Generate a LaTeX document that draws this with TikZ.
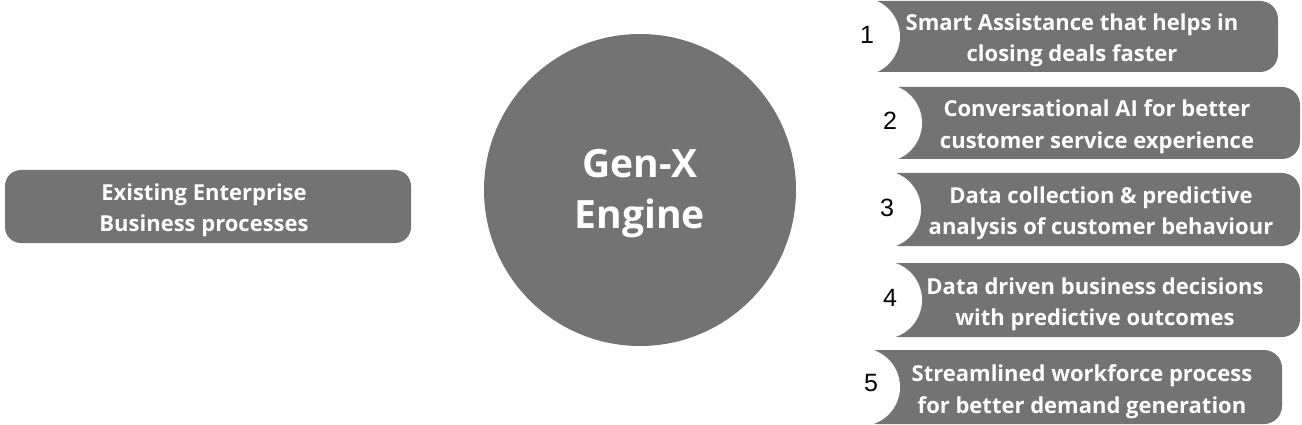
\documentclass[tikz,border=0pt]{standalone}
\usepackage{fontspec}
\setmainfont{Open Sans}
\newfontfamily\numfont{Liberation Sans}
\definecolor{boxgrey}{HTML}{737373}
\tikzset{
  grey/.style={fill=boxgrey, draw=none},
  itemtext/.style={text=white, font=\fontsize{22}{31.5}\selectfont\bfseries, align=center, inner sep=0pt},
  notch/.style={circle, fill=white, draw=none, minimum size=78pt, inner sep=0pt},
  num/.style={font=\numfont\fontsize{25}{25}\selectfont, text=black, inner sep=0pt}
}
\begin{document}
\begin{tikzpicture}[x=1pt,y=-1pt]
\useasboundingbox (0,0) rectangle (1302,425);
% left box
\fill[grey, rounded corners=16pt] (5,170) rectangle (411,243);
\node[itemtext] (exist) at (204,210.5) {Existing Enterprise\\Business processes};
% circle
\node[circle, fill=boxgrey, minimum size=312pt, inner sep=0pt] (engine) at (640,190) {};
\node[text=white, font=\fontsize{39}{51}\selectfont\bfseries, align=center] (enginetext) at (640,194) {Gen-X\\Engine};
% right boxes
\fill[grey, rounded corners=18pt] (860,1) rectangle (1278,72);
\node[notch] (c1) at (861,36.5) {};
\node[num] (n1) at (867,35) {1};
\node[itemtext] (t1) at (1072,40.5) {Smart Assistance that helps in\\closing deals faster};

\fill[grey, rounded corners=18pt] (880,87) rectangle (1300,159);
\node[notch] (c2) at (883,123) {};
\node[num] (n2) at (890,121) {2};
\node[itemtext] (t2) at (1097,126.5) {Conversational AI for better\\customer service experience};

\fill[grey, rounded corners=18pt] (880,173) rectangle (1300,246);
\node[notch] (c3) at (882,209.5) {};
\node[num] (n3) at (887,208) {3};
\node[itemtext] (t3) at (1101,213.5) {Data collection \& predictive\\analysis of customer behaviour};

\fill[grey, rounded corners=18pt] (880,263) rectangle (1300,337);
\node[notch] (c4) at (883,300) {};
\node[num] (n4) at (890,298) {4};
\node[itemtext] (t4) at (1095,304.5) {Data driven business decisions\\with predictive outcomes};

\fill[grey, rounded corners=18pt] (860,350) rectangle (1282,424);
\node[notch] (c5) at (861,387) {};
\node[num] (n5) at (871,383) {5};
\node[itemtext] (t5) at (1082,391.5) {Streamlined workforce process\\for better demand generation};
\end{tikzpicture}
\end{document}
